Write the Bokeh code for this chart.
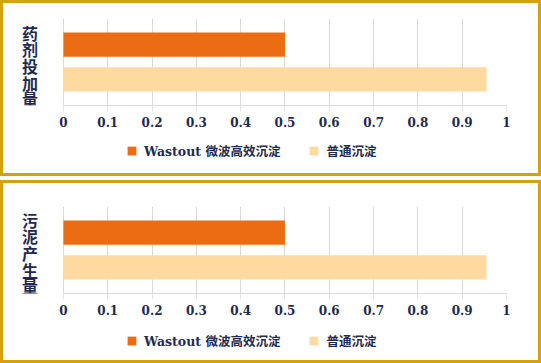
from bokeh.plotting import figure
from bokeh.models import Range1d, FixedTicker, Legend, LegendItem, Label
from bokeh.layouts import column
from bokeh.embed import file_html
from bokeh.resources import INLINE

# ---- data ----
categories = ["药剂投加量", "污泥产生量"]
series_names = ["Wastout 微波高效沉淀", "普通沉淀"]
wastout_values = [0.5, 0.5]
normal_values = [0.955, 0.955]
tick_values = [0, 0.1, 0.2, 0.3, 0.4, 0.5, 0.6, 0.7, 0.8, 0.9, 1.0]
tick_labels = ["0", "0.1", "0.2", "0.3", "0.4", "0.5", "0.6", "0.7", "0.8", "0.9", "1"]

# ---- styles ----
ORANGE = "#EC6C14"
PALE = "#FFDAA0"
GOLD = "#D4A20A"
NAVY = "#1F2B4E"
GRID = "#D9D9D9"
SERIF_CJK = "'DejaVu Serif', 'Noto Sans CJK SC'"
BORDER = f"3px solid {GOLD}"

panel_specs = [
    dict(chart_h=136, top=15, bottom=34, legend_h=40, legend_y=16, label_y=0.454),
    dict(chart_h=143, top=23, bottom=33, legend_h=40, legend_y=13, label_y=0.466),
]
X_START = -0.124  # room at the left of the frame for the category label


def make_panel(i):
    spec = panel_specs[i]
    p = figure(width=541, height=spec["chart_h"], output_backend="svg",
               toolbar_location=None, tools="",
               x_range=Range1d(X_START, 1), y_range=Range1d(0, 1),
               min_border_left=5, min_border_right=38,
               min_border_top=spec["top"], min_border_bottom=spec["bottom"],
               styles={"border-top": BORDER, "border-left": BORDER,
                       "border-right": BORDER})
    p.outline_line_color = None
    p.background_fill_color = "white"
    p.border_fill_color = "white"

    p.hbar(y=0.7, left=0, right=wastout_values[i], height=0.28,
           fill_color=ORANGE, line_color=None)
    p.hbar(y=0.3, left=0, right=normal_values[i], height=0.28,
           fill_color=PALE, line_color=None)

    # x axis
    xa = p.xaxis[0]
    xa.bounds = (0, 1)
    xa.ticker = FixedTicker(ticks=tick_values)
    xa.major_label_overrides = {v: s for v, s in zip(tick_values, tick_labels)}
    xa.axis_line_color = GRID
    xa.major_tick_line_color = "#E4E4E4"
    xa.major_tick_out = 6
    xa.major_tick_in = 0
    xa.minor_tick_line_color = None
    xa.major_label_standoff = 5
    xa.major_label_text_font = "DejaVu Serif"
    xa.major_label_text_font_style = "bold"
    xa.major_label_text_font_size = "12px"
    xa.major_label_text_color = NAVY

    p.yaxis.visible = False
    p.xgrid.ticker = FixedTicker(ticks=tick_values)
    p.xgrid.grid_line_color = GRID
    p.ygrid.grid_line_color = None

    p.add_layout(Label(x=-0.0756, y=spec["label_y"],
                       text="\n".join(categories[i]),
                       text_align="center", text_baseline="middle",
                       text_font="Noto Sans CJK SC", text_font_style="bold",
                       text_font_size="16px", text_line_height=0.69,
                       text_color=NAVY))

    # legend strip below the chart
    lg = figure(width=541, height=spec["legend_h"], output_backend="svg",
                toolbar_location=None, tools="",
                x_range=Range1d(0, 1), y_range=Range1d(0, 1),
                x_axis_type=None, y_axis_type=None, min_border=0,
                styles={"border-bottom": BORDER, "border-left": BORDER,
                        "border-right": BORDER})
    lg.outline_line_color = None
    lg.grid.grid_line_color = None
    lg.background_fill_color = "white"
    lg.border_fill_color = "white"
    # legend swatches: same series, renderers hidden so only the legend shows them
    r1 = lg.hbar(y=0.5, left=0, right=wastout_values[i], height=0.28,
                 fill_color=ORANGE, line_color=None, visible=False)
    r2 = lg.hbar(y=0.5, left=0, right=normal_values[i], height=0.28,
                 fill_color=PALE, line_color=None, visible=False)
    legend = Legend(items=[LegendItem(label=series_names[0], renderers=[r1]),
                           LegendItem(label=series_names[1], renderers=[r2])],
                    orientation="horizontal", location=(118, spec["legend_y"]),
                    padding=0, margin=0, spacing=28,
                    glyph_width=11, glyph_height=11, label_standoff=7,
                    border_line_color=None, background_fill_alpha=0,
                    inactive_fill_alpha=0,
                    label_text_font=SERIF_CJK, label_text_font_style="bold",
                    label_text_font_size="12.5px", label_text_color=NAVY)
    lg.add_layout(legend)
    return column(p, lg, spacing=0)


p = column(make_panel(0), make_panel(1), spacing=4)

open("out.html", "w").write(file_html(p, INLINE))
